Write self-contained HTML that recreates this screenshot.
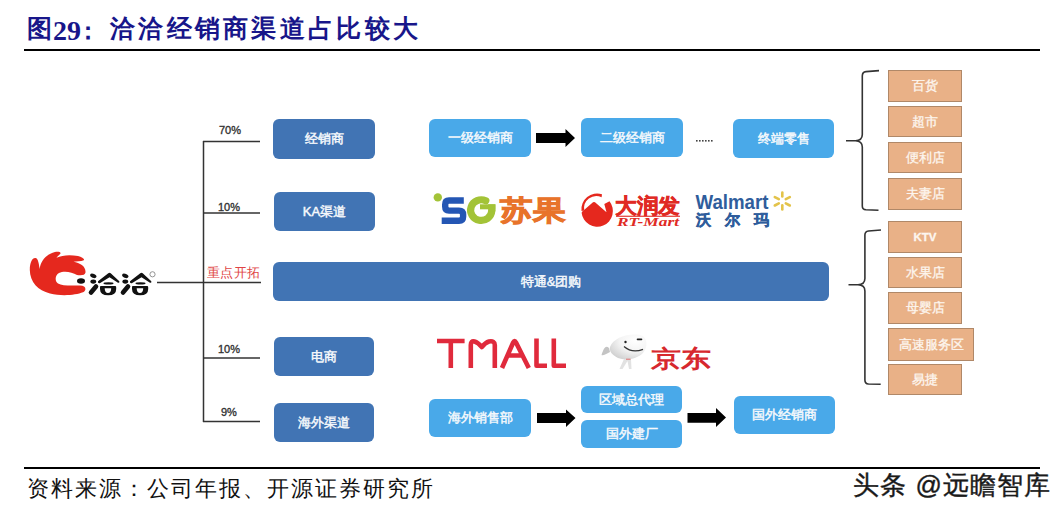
<!DOCTYPE html>
<html><head><meta charset="utf-8">
<style>
html,body{margin:0;padding:0;background:#fff;}
body{width:1063px;height:513px;position:relative;overflow:hidden;font-family:"Liberation Sans",sans-serif;}
.a{position:absolute;}
.t{position:absolute;display:flex;align-items:center;justify-content:center;color:#f6f9fc;font-size:13px;-webkit-text-stroke:0.45px #f6f9fc;white-space:nowrap;}
.db{background:#4174b4;border-radius:6px;}
.lb{background:#49a9e9;border-radius:6px;}
.ob{background:#e9b187;box-shadow:inset 0 0 0 1px #b08868;-webkit-text-stroke:0.3px #fdf6ef;color:#fdf6ef;}
.pct{position:absolute;font-size:11px;-webkit-text-stroke:0.35px #333;color:#333;white-space:nowrap;line-height:1;}
</style></head><body>
<!-- title -->
<div class="a" style="left:27px;top:13px;font-weight:bold;font-size:25px;color:#18168a;white-space:nowrap;line-height:30px;">图</div>
<div class="a" style="left:53px;top:16px;font-family:'Liberation Serif',serif;font-weight:bold;font-size:28px;color:#18168a;white-space:nowrap;line-height:30px;">29</div>
<div class="a" style="left:76px;top:16px;font-weight:bold;font-size:24px;color:#18168a;white-space:nowrap;line-height:30px;">：</div>
<div class="a" style="left:110px;top:13px;font-weight:bold;font-size:25px;color:#18168a;white-space:nowrap;line-height:30px;letter-spacing:3.3px;">洽洽经销商渠道占比较大</div>
<div class="a" style="left:24px;top:49px;width:1016px;height:2px;background:#000;"></div>
<div class="a" style="left:24px;top:467px;width:1016px;height:2px;background:#000;"></div>
<div class="a" id="src" style="left:27px;top:475px;font-size:22px;color:#111;white-space:nowrap;line-height:28px;letter-spacing:2px;">资料来源：公司年报、开源证券研究所</div>
<div class="a" id="wm" style="left:853px;top:469px;font-size:26px;color:#1a1a1a;white-space:nowrap;line-height:32px;letter-spacing:1.1px;-webkit-text-stroke:0.4px #1a1a1a;">头条 @远瞻智库</div>

<svg class="a" style="left:0;top:0" width="1063" height="513" viewBox="0 0 1063 513">
 <g stroke="#333" stroke-width="1.5" fill="none">
  <line x1="157" y1="282.5" x2="261" y2="282.5"/>
  <line x1="203.5" y1="141" x2="203.5" y2="422"/>
  <line x1="203" y1="141.5" x2="260" y2="141.5"/>
  <line x1="203" y1="213" x2="260" y2="213"/>
  <line x1="203" y1="358" x2="260" y2="358"/>
  <line x1="203" y1="421.5" x2="260" y2="421.5"/>
 </g>
 <!-- brackets -->
 <g stroke="#333" stroke-width="1.6" fill="none">
  <path d="M879 70.6 L866 71.6 Q862.3 72 862.3 76 L862.3 134.5 Q862.3 140.5 855.5 140.7 L846 140.7 M855.5 140.7 Q862.3 141 862.3 147 L862.3 206 Q862.3 209.5 866 209.8 L878.5 210.3"/>
  <path d="M881 230 L868.5 231 Q864.9 231.5 864.9 235 L864.9 278.5 Q864.9 284.5 858 284.8 L848.5 284.8 M858 284.8 Q864.9 285 864.9 291 L864.9 380 Q864.9 383.8 868.5 384 L880.7 384.3"/>
 </g>
 <!-- arrows -->
 <g fill="#000">
  <path d="M536 133 L565.5 133 L565.5 129 L575 138 L565.5 147 L565.5 143 L536 143 Z"/>
  <path d="M537 413 L566 413 L566 409.5 L575.5 418 L566 427 L566 423 L537 423 Z"/>
  <path d="M687.5 413 L716 413 L716 408 L726 417.5 L716 427 L716 422.7 L687.5 422.7 Z"/>
 </g>
 <!-- dots -->
 <g fill="#444">
  <rect x="696" y="140" width="1.6" height="1.6"/><rect x="699" y="140" width="1.6" height="1.6"/><rect x="702" y="140" width="1.6" height="1.6"/>
  <rect x="705" y="140" width="1.6" height="1.6"/><rect x="708" y="140" width="1.6" height="1.6"/><rect x="711" y="140" width="1.6" height="1.6"/>
 </g>
</svg>

<div class="pct" style="left:219px;top:125px;">70%</div>
<div class="pct" style="left:218px;top:202px;">10%</div>
<div class="pct" style="left:207px;top:266px;font-size:13px;-webkit-text-stroke:0;letter-spacing:0.3px;color:#e04444;">重点开拓</div>
<div class="pct" style="left:218px;top:344px;">10%</div>
<div class="pct" style="left:221px;top:407px;">9%</div>

<div class="t db" style="left:273px;top:119px;width:102px;height:40px;">经销商</div>
<div class="t db" style="left:274px;top:192px;width:101px;height:39px;">KA渠道</div>
<div class="t db" style="left:273px;top:262px;width:556px;height:39px;">特通&amp;团购</div>
<div class="t db" style="left:274px;top:337px;width:100px;height:39px;">电商</div>
<div class="t db" style="left:274px;top:403px;width:100px;height:39px;">海外渠道</div>

<div class="t lb" style="left:429px;top:119px;width:102px;height:38px;">一级经销商</div>
<div class="t lb" style="left:581px;top:118px;width:102px;height:39px;">二级经销商</div>
<div class="t lb" style="left:733px;top:119px;width:101px;height:39px;">终端零售</div>
<div class="t lb" style="left:429px;top:399px;width:102px;height:38px;">海外销售部</div>
<div class="t lb" style="left:581px;top:386px;width:101px;height:27px;">区域总代理</div>
<div class="t lb" style="left:581px;top:420px;width:101px;height:28px;">国外建厂</div>
<div class="t lb" style="left:734px;top:396px;width:101px;height:38px;">国外经销商</div>

<div class="t ob" style="left:888px;top:70px;width:74px;height:32px;">百货</div>
<div class="t ob" style="left:888px;top:106px;width:74px;height:31px;">超市</div>
<div class="t ob" style="left:888px;top:142px;width:74px;height:31px;">便利店</div>
<div class="t ob" style="left:888px;top:178px;width:74px;height:32px;">夫妻店</div>
<div class="t ob" style="left:888px;top:221px;width:74px;height:32px;font-size:11.5px;font-weight:bold;">KTV</div>
<div class="t ob" style="left:888px;top:257px;width:74px;height:31px;">水果店</div>
<div class="t ob" style="left:888px;top:292px;width:74px;height:32px;">母婴店</div>
<div class="t ob" style="left:888px;top:328px;width:86px;height:33px;">高速服务区</div>
<div class="t ob" style="left:888px;top:364px;width:74px;height:31px;">易捷</div>

<!-- qiaqia logo -->
<svg class="a" style="left:0;top:0" width="1063" height="513" viewBox="0 0 1063 513">
 <path fill="#e5281e" d="M85.5 272.5 C85 275.5 81 275.5 77 275 C72 272 64 270.5 59 273 C55 275 54.5 281 58 283.5 C62 286 70 285.5 80 285.5 C86 285.5 87 290 83 292.3 C76 295 62 296.5 50 293.5 C38 290.5 30 282 29.8 270 C29.8 262 32.5 257.5 35.5 258 C38 258.5 38.8 263 39.6 269 C40.5 262 45 254.5 55 252 C58 251.5 61 252 60.5 253.5 C59.5 255 57 256.5 56.5 257.8 C62 255 70 254.5 78 256 C82 257 85 259 83.8 260.2 C81 261.5 76 261 73.5 261.7 C80 263 86 266 85.5 272.5 Z"/>
 <ellipse cx="81" cy="281" rx="4" ry="2.7" fill="#111"/>
 <g id="qq" fill="#111">
  <ellipse cx="93.3" cy="275.8" rx="3.3" ry="2" transform="rotate(22 93.3 275.8)"/>
  <ellipse cx="93.3" cy="281.6" rx="2.9" ry="2.1"/>
  <path d="M91 292.5 L96 286.5" stroke="#111" stroke-width="4.6" stroke-linecap="round" fill="none"/>
  <path d="M98 281.3 L108.3 273.3 Q109.5 272.4 110.7 273.3 L119.3 281.2 Q119.8 283.2 118 282.8 L109.5 277.3 L99.8 283.2 Q97.4 283.5 98 281.3 Z"/>
  <ellipse cx="108.5" cy="283.4" rx="5" ry="1.1"/>
  <path fill-rule="evenodd" d="M100.5 286 L115.5 286 Q116.2 286 116.2 287.5 L116.2 289 Q116.2 295.3 108.2 295.3 Q100 295.3 100 289 L100 287.5 Q100 286 100.5 286 Z M104.7 288.3 L111.2 288.3 Q111.2 293 108 293 Q104.7 293 104.7 288.3 Z"/>
 </g>
 <use href="#qq" x="32"/>
 <circle cx="152.5" cy="274.3" r="2.6" fill="none" stroke="#888" stroke-width="0.9"/>

 <!-- SG suguo -->
 <circle cx="437.8" cy="197.4" r="4.2" fill="#a3c337"/>
 <path d="M463.8 200.5 L449 200.5 Q445.2 200.5 445.2 204.5 L445.2 206.6 Q445.2 210.6 449 210.6 L459 210.6 Q463.1 210.6 463.1 214.6 L463.1 216.75 Q463.1 220.75 459 220.75 L441.7 220.75" fill="none" stroke="#2456b4" stroke-width="6.4" stroke-linejoin="round"/>
 <path d="M485.8 200.8 A10.6 10.3 0 1 0 491.8 210.8" fill="none" stroke="#a3c337" stroke-width="7.2" stroke-linecap="round"/>
 <rect x="480" y="204.3" width="15.4" height="5" fill="#a3c337"/>
 <rect x="488.2" y="204.3" width="7.2" height="7" fill="#a3c337"/>
 <text x="500" y="220" font-family="Liberation Sans" font-weight="bold" font-size="28" fill="#e8732a" stroke="#e8732a" stroke-width="0.9" textLength="65" lengthAdjust="spacingAndGlyphs">苏果</text>

 <!-- RT-Mart -->
 <path fill="#e5281e" d="M582.3 211.5 L593 202.3 Q594 201.5 595 202.3 L606.5 212.3 L604.3 204 L609.5 201.3 A15.7 15.7 0 1 1 581.6 212.8 Z"/>
 <path fill="#e5281e" d="M581.5 211 A15.7 15.7 0 0 1 602 194.3 L601.6 197.2 A12.3 12.3 0 0 0 584.3 210.6 Z"/>
 <text x="615" y="213" font-family="Liberation Sans" font-weight="bold" font-size="21" fill="#e02a24" stroke="#e02a24" stroke-width="0.6" textLength="65" lengthAdjust="spacingAndGlyphs">大润发</text>
 <rect x="616" y="215.7" width="64" height="1.1" fill="#e02a24"/>
 <text x="617" y="226" font-family="Liberation Serif" font-weight="bold" font-style="italic" font-size="11.5" fill="#e02a24" textLength="62" lengthAdjust="spacingAndGlyphs">RT-Mart</text>

 <!-- Walmart -->
 <text x="695.5" y="208.5" font-family="Liberation Sans" font-weight="bold" font-size="19.5" fill="#2f5d9c" textLength="73" lengthAdjust="spacingAndGlyphs">Walmart</text>
 <text x="696" y="225" font-family="Liberation Sans" font-weight="bold" font-size="15" fill="#2f5d9c" stroke="#2f5d9c" stroke-width="0.5" letter-spacing="14">沃尔玛</text>
 <g stroke="#e3c34a" stroke-width="2.6" stroke-linecap="round">
  <line x1="782.3" y1="192.5" x2="782.3" y2="196.5"/>
  <line x1="782.3" y1="205.2" x2="782.3" y2="209.5"/>
  <line x1="774.8" y1="197.2" x2="778.8" y2="199.2"/>
  <line x1="789.8" y1="197.2" x2="785.8" y2="199.2"/>
  <line x1="774.8" y1="205.5" x2="778.8" y2="203.3"/>
  <line x1="789.8" y1="205.5" x2="785.8" y2="203.3"/>
 </g>

 <!-- TMALL -->
 <g stroke="#e02a3c" stroke-width="4.6" fill="none" stroke-linejoin="round">
  <path d="M437 341 L464.6 341 M450.8 341 L450.8 368"/>
  <path d="M470.8 368 L470.8 345 Q470.8 340.5 474.5 341.5 Q478 342.5 481.8 347 Q485.5 342.5 489 341.5 Q494.8 340.5 494.8 345 L494.8 368"/>
  <path d="M502 368 L513.2 342.5 Q514.6 339.6 516 342.5 L528.8 368 M508.5 355.5 L522 355.5"/>
  <path d="M536.5 338.5 L536.5 365.7 L547 365.7"/>
  <path d="M553.8 338.5 L553.8 365.7 L566 365.7"/>
 </g>

 <!-- JD -->
 <defs>
  <radialGradient id="jdg" cx="0.7" cy="0.25" r="0.85">
   <stop offset="0" stop-color="#ffffff"/>
   <stop offset="0.5" stop-color="#f4f4f4"/>
   <stop offset="1" stop-color="#cfcfcf"/>
  </radialGradient>
 </defs>
 <path fill="url(#jdg)" d="M610 347 C613 338 628 333 640 335 C648 337 648 347 643 353 C637 359 626 361 618 358 C612 355 609 351 610 347 Z"/>
 <path fill="#c4c4c4" d="M609 348 C606 345 604 347 601.5 355 C603 356 606 354 610 352 Z"/>
 <path fill="#e2e2e2" d="M624 359 L619.5 369 L622.5 369 L627.5 361 L629 369 L631.5 369 L631 359 Z"/>
 <circle cx="625.5" cy="342" r="1.2" fill="#222"/>
 <path d="M637.5 339.4 L641.5 339.4" stroke="#222" stroke-width="1.6" stroke-linecap="round"/>
 <path d="M624 346.5 Q632 353.5 643 349.3" stroke="#333" stroke-width="1.3" fill="none"/>
 <rect x="626" y="358.6" width="4.5" height="1.4" fill="#e09090"/>
 <text x="650.5" y="367" font-family="Liberation Sans" font-weight="bold" font-size="24" fill="#d7282e" textLength="60" lengthAdjust="spacingAndGlyphs">京东</text>
</svg>
</body></html>
